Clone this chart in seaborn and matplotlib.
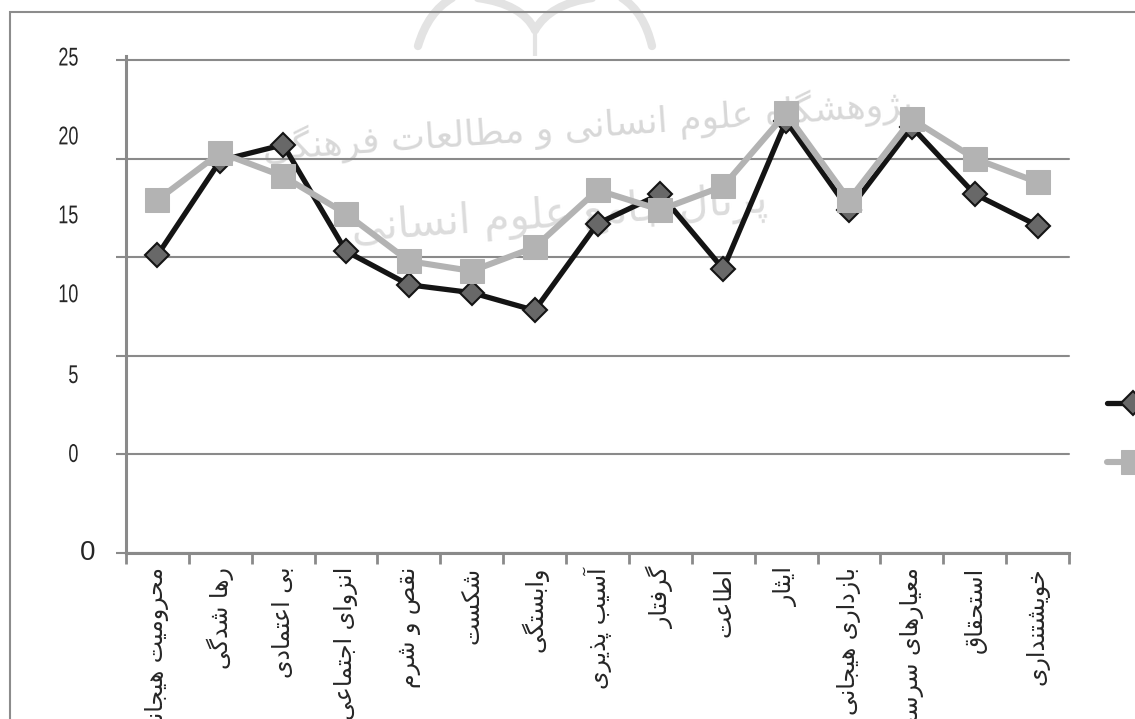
import matplotlib
matplotlib.use("Agg")
import matplotlib.pyplot as plt
from matplotlib.patches import Rectangle, PathPatch
from matplotlib.path import Path
from matplotlib.patheffects import AbstractPathEffect
from matplotlib.transforms import Affine2D
import numpy as np
import pandas as pd
import seaborn as sns

# categories on the x axis (Persian, logical order)
categories = [
    "محرومیت هیجانی", "رها شدگی", "بی اعتمادی", "انزوای اجتماعی", "نقص و شرم",
    "شکست", "وابستگی", "آسیب پذیری", "گرفتار", "اطاعت", "ایثار",
    "بازداری هیجانی", "معیارهای سرسختانه", "استحقاق", "خویشتنداری",
]
series_names = ["Series1", "Series2"]
series_dark = [15.1, 19.9, 20.7, 15.3, 13.6, 13.2, 12.3, 16.7, 18.2, 14.4,
               21.9, 17.4, 21.6, 18.2, 16.6]
series_light = [17.9, 20.3, 19.1, 17.2, 14.8, 14.3, 15.5, 18.4, 17.4, 18.6,
                22.3, 17.9, 22.0, 20.0, 18.8]
grid_values = [0, 5, 10, 15, 20, 25]
y_labels = ["25", "20", "15", "10", "5", "0"]
watermark = ["پژوهشگاه علوم انسانی و مطالعات فرهنگی", "پرتال جامع علوم انسانی"]

# the scanned axis labels sit off their gridlines; where they were drawn
y_label_pos = [25.2, 21.2, 17.2, 13.2, 9.1, 5.1]

# matplotlib has no Arabic shaping: pick presentation forms by hand,
# then reverse for left-to-right drawing.
# letter -> (isolated form, number of forms); 4 joins both sides, 2 only right
FORMS = {
    "ا": (0xFE8D, 2), "آ": (0xFE81, 2), "ب": (0xFE8F, 4), "پ": (0xFB56, 4),
    "ت": (0xFE95, 4), "ث": (0xFE99, 4), "ج": (0xFE9D, 4), "چ": (0xFB7A, 4),
    "ح": (0xFEA1, 4), "خ": (0xFEA5, 4), "د": (0xFEA9, 2), "ذ": (0xFEAB, 2),
    "ر": (0xFEAD, 2), "ز": (0xFEAF, 2), "ژ": (0xFB8A, 2), "س": (0xFEB1, 4),
    "ش": (0xFEB5, 4), "ص": (0xFEB9, 4), "ض": (0xFEBD, 4), "ط": (0xFEC1, 4),
    "ظ": (0xFEC5, 4), "ع": (0xFEC9, 4), "غ": (0xFECD, 4), "ف": (0xFED1, 4),
    "ق": (0xFED5, 4), "ک": (0xFB8E, 4), "گ": (0xFB92, 4), "ل": (0xFEDD, 4),
    "م": (0xFEE1, 4), "ن": (0xFEE5, 4), "و": (0xFEED, 2), "ه": (0xFEE9, 4),
    "ی": (0xFBFC, 4),
}
FORMS["ي"] = FORMS["ی"]
FORMS["ك"] = FORMS["ک"]


def shape(text):
    out = []
    for i, ch in enumerate(text):
        if ch not in FORMS:
            out.append(ch)
            continue
        base, n = FORMS[ch]
        prev = text[i - 1] if i > 0 else ""
        nxt = text[i + 1] if i + 1 < len(text) else ""
        join_prev = prev in FORMS and FORMS[prev][1] == 4
        join_next = n == 4 and nxt in FORMS
        if join_prev and join_next:
            off = 3
        elif join_prev:
            off = 1
        elif join_next:
            off = 2
        else:
            off = 0
        out.append(chr(base + off))
    return "".join(reversed(out))


class Narrow(AbstractPathEffect):
    """Squeeze text horizontally about its right edge (no narrow font here)."""

    def __init__(self, sx):
        super().__init__()
        self._sx = sx

    def draw_path(self, renderer, gc, tpath, affine, rgbFace=None):
        x1 = tpath.get_extents().x1
        squeeze = Affine2D().translate(-x1, 0).scale(self._sx, 1).translate(x1, 0)
        renderer.draw_path(gc, tpath, squeeze + affine, rgbFace)


sns.set_theme(style="white")
plt.rcParams["font.family"] = ["DejaVu Sans"]

W, H = 1135, 719
fig = plt.figure(figsize=(W / 100, H / 100), dpi=100)
ax = fig.add_axes([126 / W, 1 - 553 / H, (1069 - 126) / W, (553 - 56) / H])

GRID = "#8a8a8a"
FAINT = "#e3e3e3"

# faint watermark behind the chart: logo arcs and two lines of text
px = Affine2D().scale(1 / W, -1 / H).translate(0, 1) + fig.transFigure
C3 = Path.CURVE3
logo = [
    [(418, 46), (428, 12), (452, -2)],
    [(478, -2), (522, 4), (535, 30)],
    [(535, 30), (550, 4), (592, -2)],
    [(622, -2), (644, 12), (652, 46)],
]
for verts in logo:
    fig.add_artist(PathPatch(Path(verts, [Path.MOVETO, C3, C3]), transform=px,
                             fill=False, edgecolor=FAINT, lw=6, zorder=0,
                             capstyle="round"))
fig.add_artist(PathPatch(Path([(535, 30), (535, 76)]), transform=px,
                         fill=False, edgecolor=FAINT, lw=3, zorder=0))

ax.text(0.49, 0.86, shape(watermark[0]), transform=ax.transAxes, ha="center",
        va="center", fontsize=26, color="#d8d8d8", rotation=4, zorder=0)
ax.text(0.46, 0.68, shape(watermark[1]), transform=ax.transAxes, ha="center",
        va="center", fontsize=30, color="#dcdcdc", rotation=4, zorder=0)

df = pd.DataFrame({"pos": np.arange(len(categories)),
                   "dark": series_dark, "light": series_light})
sns.lineplot(data=df, x="pos", y="dark", ax=ax, color="#141414", lw=3.8,
             marker="D", markersize=12, markerfacecolor="#686868",
             markeredgecolor="#141414", markeredgewidth=1.5,
             label=series_names[0], zorder=3)
sns.lineplot(data=df, x="pos", y="light", ax=ax, color="#b3b3b3", lw=4.4,
             marker="s", markersize=17, markerfacecolor="#b3b3b3",
             markeredgecolor="#b3b3b3", label=series_names[1], zorder=4)
handles, labels = ax.get_legend_handles_labels()
ax.get_legend().remove()
ax.set_xlabel("")
ax.set_ylabel("")

ax.set_xlim(-0.5, len(categories) - 0.5)
ax.set_ylim(0, 25)

ax.set_xticks(np.arange(len(categories)))
ax.set_xticklabels([shape(c) for c in categories], rotation=90, va="top",
                   ha="center", fontsize=17)
ax.set_xticks(np.arange(-0.5, len(categories), 1), minor=True)
ax.tick_params(axis="x", which="major", length=0, pad=10)
ax.tick_params(axis="x", which="minor", bottom=True, length=8, width=2,
               color=GRID)

ax.set_yticks(grid_values, minor=True)
ax.set_yticks(y_label_pos, y_labels)
for t in ax.get_yticklabels():
    t.set_family(["Liberation Sans", "DejaVu Sans"])
    t.set_fontsize(18.5)
    t.set_path_effects([Narrow(0.7)])
ax.tick_params(axis="y", which="major", length=0, pad=34)
ax.tick_params(axis="y", which="minor", left=True, length=7.2, width=1.5,
               color=GRID)
ax.grid(False)
ax.grid(True, which="minor", axis="y", color=GRID, lw=1.5)
for tick in ax.yaxis.get_minor_ticks():
    tick.gridline.set_clip_on(False)

# extra, larger zero at the bottom of the axis
ax.annotate("0", xy=(0, 0), xycoords=("axes fraction", "data"),
            xytext=(-31, 0), textcoords="offset pixels", ha="right",
            va="center", fontsize=20, family=["Liberation Sans", "DejaVu Sans"])

for side in ("top", "right"):
    ax.spines[side].set_visible(False)
for side in ("left", "bottom"):
    ax.spines[side].set_color(GRID)
    ax.spines[side].set_linewidth(2.2)

# legend only peeks in at the right edge
fig.legend(handles, labels, loc="center left",
           bbox_to_anchor=(1107 / W, 1 - 434 / H), frameon=False,
           borderpad=0, borderaxespad=0, handlelength=2.9, labelspacing=2.3,
           fontsize=13)

# outer chart frame, cut by the crop on the right and bottom
fig.add_artist(Rectangle((10 / W, -0.1), 1.2, 1 - 12 / H + 0.1,
                         transform=fig.transFigure, fill=False,
                         edgecolor="#8c8c8c", lw=1.5))

fig.savefig("out.png", dpi=100)
